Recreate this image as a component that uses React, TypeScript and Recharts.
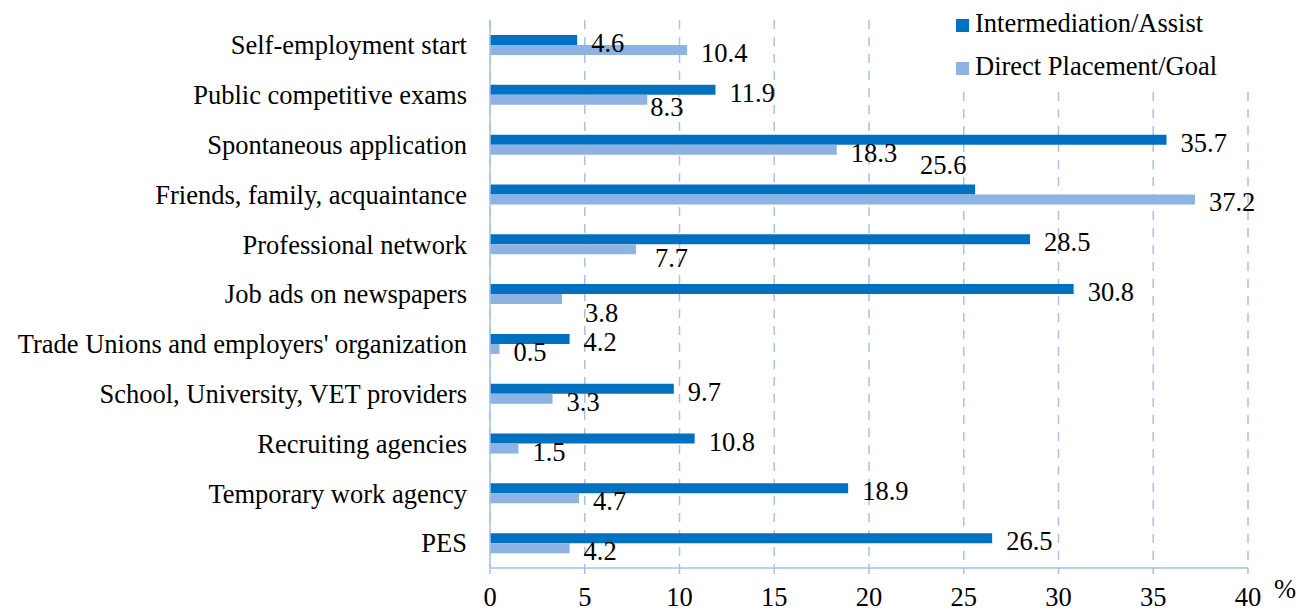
import { BarChart, Bar, XAxis, YAxis, CartesianGrid, LabelList, Customized } from 'recharts';

const categories = [
  'Self-employment start',
  'Public competitive exams',
  'Spontaneous application',
  'Friends, family,  acquaintance',
  'Professional network',
  'Job ads on newspapers',
  "Trade Unions and employers' organization",
  'School, University, VET providers',
  'Recruiting agencies',
  'Temporary work agency',
  'PES',
];
const assist = [4.6, 11.9, 35.7, 25.6, 28.5, 30.8, 4.2, 9.7, 10.8, 18.9, 26.5];
const direct = [10.4, 8.3, 18.3, 37.2, 7.7, 3.8, 0.5, 3.3, 1.5, 4.7, 4.2];
const xTicks = [0, 5, 10, 15, 20, 25, 30, 35, 40];

const ASSIST_NAME = 'Intermediation/Assist';
const DIRECT_NAME = 'Direct Placement/Goal';
const DARK = '#0070C0';
const LIGHT = '#8DB3E2';
const AXIS = '#A9C2E6';
const FONT = '"Liberation Serif", "Times New Roman", serif';

// legend box in px; grid lines stop under it like in the original
const LEGEND = { left: 900, top: 19, width: 355, height: 73 };

// a few labels sit off their usual spot in the original (overlap avoidance)
const labelShift: Record<string, [number, number]> = {
  'assist-3': [-69, -27],
  'direct-1': [-11, 4],
  'direct-4': [5, 6],
  'direct-5': [9, 11],
};

const data = categories.map((name, i) => ({ name, assist: assist[i], direct: direct[i] }));

const makeLabel = (key: string) => (props: any) => {
  const { x, y, width, height, value, index } = props;
  const [dx, dy] = labelShift[`${key}-${index}`] ?? [0, 0];
  return (
    <text
      x={Number(x) + Number(width) + 14 + dx}
      y={Number(y) + Number(height) / 2 + 12 + dy}
      fill="#000"
      fontSize={26.5}
      fontFamily={FONT}
    >
      {value}
    </text>
  );
};

const gridLine = (p: any) => {
  const underLegend = p.x1 > LEGEND.left && p.x1 < LEGEND.left + LEGEND.width;
  return (
    <line
      key={p.key}
      x1={p.x1}
      x2={p.x2}
      y1={underLegend ? LEGEND.top + LEGEND.height : p.y1}
      y2={p.y2}
      stroke={AXIS}
      strokeWidth={1.5}
      strokeDasharray="9 8"
    />
  );
};

function LegendBox() {
  const items = [
    { name: ASSIST_NAME, color: DARK },
    { name: DIRECT_NAME, color: LIGHT },
  ];
  return (
    <g>
      <rect x={LEGEND.left} y={LEGEND.top} width={LEGEND.width} height={LEGEND.height} fill="#fff" />
      {items.map((it, i) => (
        <g key={it.name}>
          <rect x={956} y={19 + i * 43} width={13} height={13} fill={it.color} />
          <text x={975} y={32 + i * 43} fill="#000" fontSize={26.5} fontFamily={FONT}>
            {it.name}
          </text>
        </g>
      ))}
    </g>
  );
}

export default function App() {
  return (
    <div style={{ position: 'absolute', left: 0, top: 0, width: 1298, height: 610, background: '#fff' }}>
      <BarChart
        width={1298}
        height={610}
        data={data}
        layout="vertical"
        margin={{ top: 20, right: 50, left: 0, bottom: 12 }}
        barSize={10}
        barGap={0}
      >
        <CartesianGrid horizontal={false} vertical={gridLine} />
        <XAxis
          type="number"
          domain={[0, 40]}
          ticks={xTicks}
          height={30}
          stroke={AXIS}
          strokeWidth={1.5}
          tickSize={6}
          tickMargin={13}
          tick={{ fill: '#000', fontSize: 26.5, fontFamily: FONT }}
          label={{ value: '%', position: 'right', offset: 26, dy: 6, fill: '#000', fontSize: 26.5, fontFamily: FONT }}
        />
        <YAxis
          type="category"
          dataKey="name"
          width={490}
          stroke={AXIS}
          strokeWidth={1.5}
          tickLine={false}
          tickSize={0}
          tickMargin={23}
          interval={0}
          tick={{ fill: '#000', fontSize: 26.5, fontFamily: FONT }}
        />
        <Bar dataKey="assist" name={ASSIST_NAME} fill={DARK} isAnimationActive={false}>
          <LabelList dataKey="assist" content={makeLabel('assist')} />
        </Bar>
        <Bar dataKey="direct" name={DIRECT_NAME} fill={LIGHT} isAnimationActive={false}>
          <LabelList dataKey="direct" content={makeLabel('direct')} />
        </Bar>
        <Customized component={LegendBox} />
      </BarChart>
    </div>
  );
}
